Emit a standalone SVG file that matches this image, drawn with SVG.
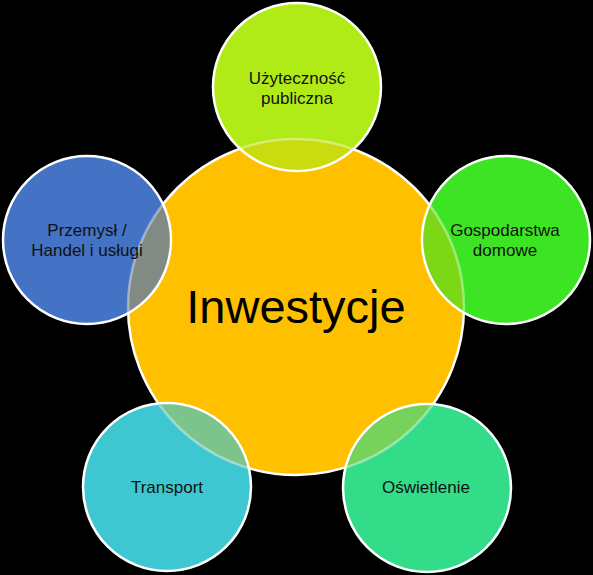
<svg xmlns="http://www.w3.org/2000/svg" width="593" height="575" viewBox="0 0 593 575">
<defs>
<style>
.lbl{font-family:"Liberation Sans",Arial,sans-serif;font-size:17px;fill:#111;text-anchor:middle}
.big{font-family:"Liberation Sans",Arial,sans-serif;font-size:47px;fill:#000;text-anchor:middle}
.sat{stroke:#fff;stroke-width:2.5}
</style>
<clipPath id="sats">
<circle cx="297" cy="87" r="82.8"/>
<circle cx="506" cy="240" r="82.8"/>
<circle cx="427" cy="488" r="82.8"/>
<circle cx="167" cy="487" r="82.8"/>
<circle cx="87" cy="240" r="82.8"/>
</clipPath>
</defs>
<rect width="593" height="575" fill="#000"/>
<g id="center">
<circle cx="296" cy="307" r="168" fill="#ffc000" stroke="#fff" stroke-width="2.5"/>
</g>
<g id="n-uzytecznosc">
<circle class="sat" cx="297" cy="87" r="84" fill="#b0eb17"/>
</g>
<g id="n-gospodarstwa">
<circle class="sat" cx="506" cy="240" r="84" fill="#3ce423"/>
</g>
<g id="n-oswietlenie">
<circle class="sat" cx="427" cy="488" r="84" fill="#33dc88"/>
</g>
<g id="n-transport">
<circle class="sat" cx="167" cy="487" r="84" fill="#3ec7d1"/>
</g>
<g id="n-przemysl">
<circle class="sat" cx="87" cy="240" r="84" fill="#4472c4"/>
</g>
<g id="overlaps" clip-path="url(#sats)">
<circle cx="296" cy="307" r="168" fill="#ffc000" fill-opacity="0.33" stroke="#fff" stroke-opacity="0.4" stroke-width="2.5"/>
</g>
<g id="labels">
<text class="big" x="296" y="323">Inwestycje</text>
<text class="lbl" x="297" y="84">Użyteczność</text>
<text class="lbl" x="297" y="104">publiczna</text>
<text class="lbl" x="505" y="236">Gospodarstwa</text>
<text class="lbl" x="505" y="256">domowe</text>
<text class="lbl" x="87" y="236">Przemysł /</text>
<text class="lbl" x="87" y="256">Handel i usługi</text>
<text class="lbl" x="167" y="493">Transport</text>
<text class="lbl" x="426" y="493">Oświetlenie</text>
</g>
</svg>
